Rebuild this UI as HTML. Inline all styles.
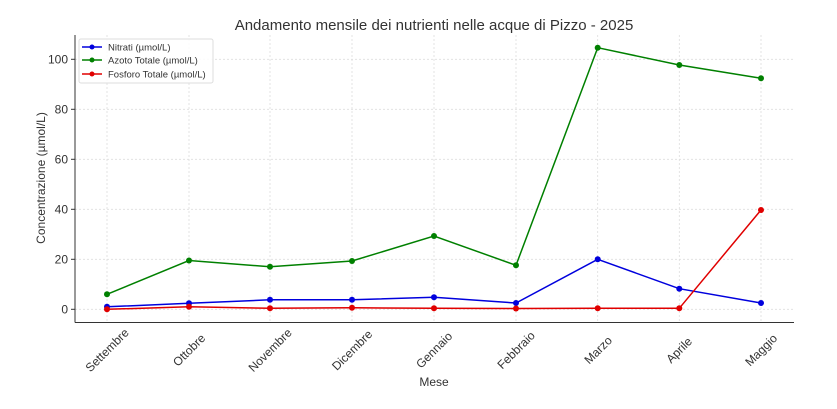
<!DOCTYPE html>
<html><head><meta charset="utf-8"><style>body{margin:0;background:#fff}svg{display:block;font-family:"Liberation Sans","DejaVu Sans",sans-serif}</style></head><body>
<svg width="837" height="409" viewBox="0 0 837 409" xmlns="http://www.w3.org/2000/svg">
<rect width="837" height="409" fill="#fff"/>
<text x="434" y="30" font-size="15" text-anchor="middle" fill="#333">Andamento mensile dei nutrienti nelle acque di Pizzo - 2025</text>
<g stroke="#ddd" stroke-width="0.8" stroke-dasharray="2,2">
<line x1="75" x2="794" y1="309.3" y2="309.3"/><line x1="75" x2="794" y1="259.3" y2="259.3"/><line x1="75" x2="794" y1="209.3" y2="209.3"/><line x1="75" x2="794" y1="159.3" y2="159.3"/><line x1="75" x2="794" y1="109.3" y2="109.3"/><line x1="75" x2="794" y1="59.3" y2="59.3"/>
<line x1="107" x2="107" y1="35" y2="322"/><line x1="189" x2="189" y1="35" y2="322"/><line x1="270" x2="270" y1="35" y2="322"/><line x1="352" x2="352" y1="35" y2="322"/><line x1="434" x2="434" y1="35" y2="322"/><line x1="516" x2="516" y1="35" y2="322"/><line x1="597.7" x2="597.7" y1="35" y2="322"/><line x1="679.3" x2="679.3" y1="35" y2="322"/><line x1="761" x2="761" y1="35" y2="322"/>
</g>
<g stroke="#333" stroke-width="1"><line x1="75" y1="35" x2="75" y2="322.5"/><line x1="75" y1="322.5" x2="794" y2="322.5"/>
<line x1="71" x2="75" y1="309.3" y2="309.3"/><line x1="71" x2="75" y1="259.3" y2="259.3"/><line x1="71" x2="75" y1="209.3" y2="209.3"/><line x1="71" x2="75" y1="159.3" y2="159.3"/><line x1="71" x2="75" y1="109.3" y2="109.3"/><line x1="71" x2="75" y1="59.3" y2="59.3"/></g>
<g font-size="12" fill="#333" text-anchor="end">
<text x="68" y="313.5">0</text><text x="68" y="263.5">20</text><text x="68" y="213.5">40</text><text x="68" y="163.5">60</text><text x="68" y="113.5">80</text><text x="68" y="63.5">100</text>
</g>
<g font-size="12" fill="#333" text-anchor="middle">
<text transform="translate(110,353) rotate(-45)">Settembre</text>
<text transform="translate(192,353) rotate(-45)">Ottobre</text>
<text transform="translate(273,353) rotate(-45)">Novembre</text>
<text transform="translate(355,353) rotate(-45)">Dicembre</text>
<text transform="translate(437,353) rotate(-45)">Gennaio</text>
<text transform="translate(519,353) rotate(-45)">Febbraio</text>
<text transform="translate(601,353) rotate(-45)">Marzo</text>
<text transform="translate(682,353) rotate(-45)">Aprile</text>
<text transform="translate(764,353) rotate(-45)">Maggio</text>
</g>
<text x="434" y="386" font-size="12" fill="#333" text-anchor="middle">Mese</text>
<text transform="translate(45,178) rotate(-90)" font-size="12" fill="#333" text-anchor="middle">Concentrazione (µmol/L)</text>
<g fill="none" stroke-width="1.5">
<polyline stroke="#008000" points="107,294.3 189,260.5 270,266.8 352,261 434,236 516,265.3 597.7,47.7 679.3,65 761,78.3"/>
<polyline stroke="#0000dd" points="107,306.8 189,303.3 270,299.8 352,299.8 434,297.3 516,303 597.7,259.3 679.3,288.7 761,303"/>
<polyline stroke="#e00000" points="107,309.3 189,306.8 270,308.3 352,307.8 434,308.3 516,308.5 597.7,308.3 679.3,308.3 761,210"/>
</g>
<g fill="#008000"><circle cx="107" cy="294.3" r="3"/><circle cx="189" cy="260.5" r="3"/><circle cx="270" cy="266.8" r="3"/><circle cx="352" cy="261" r="3"/><circle cx="434" cy="236" r="3"/><circle cx="516" cy="265.3" r="3"/><circle cx="597.7" cy="47.7" r="3"/><circle cx="679.3" cy="65" r="3"/><circle cx="761" cy="78.3" r="3"/></g>
<g fill="#0000dd"><circle cx="107" cy="306.8" r="3"/><circle cx="189" cy="303.3" r="3"/><circle cx="270" cy="299.8" r="3"/><circle cx="352" cy="299.8" r="3"/><circle cx="434" cy="297.3" r="3"/><circle cx="516" cy="303" r="3"/><circle cx="597.7" cy="259.3" r="3"/><circle cx="679.3" cy="288.7" r="3"/><circle cx="761" cy="303" r="3"/></g>
<g fill="#e00000"><circle cx="107" cy="309.3" r="3"/><circle cx="189" cy="306.8" r="3"/><circle cx="270" cy="308.3" r="3"/><circle cx="352" cy="307.8" r="3"/><circle cx="434" cy="308.3" r="3"/><circle cx="516" cy="308.5" r="3"/><circle cx="597.7" cy="308.3" r="3"/><circle cx="679.3" cy="308.3" r="3"/><circle cx="761" cy="210" r="3"/></g>
<rect x="79" y="39" width="134" height="44" rx="2" fill="#fff" fill-opacity="0.85" stroke="#ddd"/>
<g stroke-width="1.5"><line x1="82" x2="102" y1="47" y2="47" stroke="#0000dd"/><line x1="82" x2="102" y1="60" y2="60" stroke="#008000"/><line x1="82" x2="102" y1="74" y2="74" stroke="#e00000"/></g>
<circle cx="92" cy="47" r="2.5" fill="#0000dd"/><circle cx="92" cy="60" r="2.5" fill="#008000"/><circle cx="92" cy="74" r="2.5" fill="#e00000"/>
<g font-size="9.5" fill="#333"><text x="108" y="50.5">Nitrati (µmol/L)</text><text x="108" y="63.5">Azoto Totale (µmol/L)</text><text x="108" y="77.5">Fosforo Totale (µmol/L)</text></g>
</svg>
</body></html>
